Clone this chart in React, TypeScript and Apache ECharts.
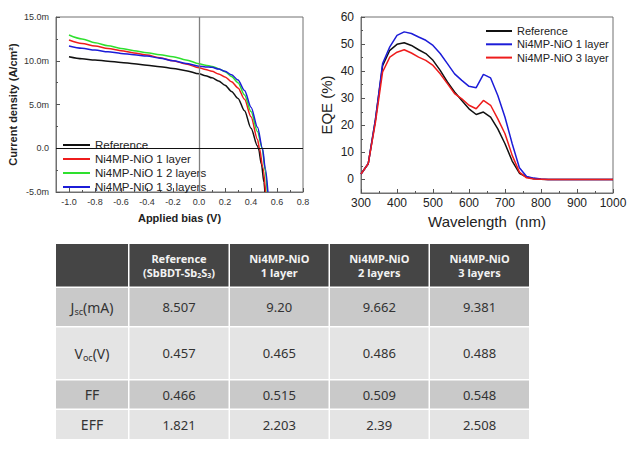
import React, { useEffect, useRef } from "react";
import * as echarts from "echarts";

// ---------- J-V curves (V, mA/cm²) ----------
const jvNames = ["Reference", "Ni4MP-NiO 1 layer", "Ni4MP-NiO 1 2 layers", "Ni4MP-NiO 1 3 layers"];
const jvReference = [
  [-1.0, 10.46], [-0.9, 10.23], [-0.8, 10.08], [-0.7, 9.95], [-0.6, 9.81], [-0.5, 9.66], [-0.4, 9.5],
  [-0.3, 9.32], [-0.2, 9.12], [-0.1, 8.87], [0, 8.51], [0.05, 8.3], [0.1, 8.05], [0.15, 7.7], [0.2, 7.2],
  [0.25, 6.5], [0.3, 5.7], [0.35, 4.3], [0.4, 2.3], [0.45, 0.25], [0.457, 0], [0.48, -1.8], [0.5, -3.9], [0.507, -5],
];
const jvOneLayer = [
  [-1.0, 12.37], [-0.9, 11.98], [-0.8, 11.68], [-0.7, 11.4], [-0.6, 11.15], [-0.5, 10.9], [-0.4, 10.65],
  [-0.3, 10.35], [-0.2, 10.0], [-0.1, 9.62], [0, 9.2], [0.05, 9.0], [0.1, 8.8], [0.15, 8.5], [0.2, 8.15],
  [0.25, 7.6], [0.3, 6.9], [0.35, 5.6], [0.4, 3.6], [0.45, 1.0], [0.465, 0], [0.49, -2.1], [0.512, -5],
];
const jvTwoLayers = [
  [-1.0, 12.94], [-0.9, 12.5], [-0.8, 12.06], [-0.7, 11.72], [-0.6, 11.41], [-0.5, 11.15], [-0.4, 10.92],
  [-0.3, 10.7], [-0.2, 10.46], [-0.1, 10.1], [0, 9.66], [0.05, 9.5], [0.1, 9.35], [0.15, 9.1], [0.2, 8.75],
  [0.25, 8.2], [0.3, 7.5], [0.35, 6.1], [0.4, 4.2], [0.45, 1.9], [0.486, 0], [0.51, -2.6], [0.525, -5],
];
const jvThreeLayers = [
  [-1.0, 11.68], [-0.9, 11.42], [-0.8, 11.22], [-0.7, 11.02], [-0.6, 10.84], [-0.5, 10.68], [-0.4, 10.53],
  [-0.3, 10.3], [-0.2, 10.0], [-0.1, 9.7], [0, 9.38], [0.05, 9.3], [0.1, 9.25], [0.15, 9.05], [0.2, 8.8],
  [0.25, 8.4], [0.3, 7.8], [0.35, 6.6], [0.4, 4.7], [0.45, 2.4], [0.488, 0], [0.51, -2.3], [0.53, -5],
];
const jvMajorTicksX = [-1.0, -0.8, -0.6, -0.4, -0.2, 0, 0.2, 0.4, 0.6, 0.8];
const jvMinorTicksX = [-0.9, -0.7, -0.5, -0.3, -0.1, 0.1, 0.3, 0.5, 0.7];
const jvMajorTicksY = [-5, 0, 5, 10, 15];
const jvMinorTicksY = [-2.5, 2.5, 7.5, 12.5];

// ---------- EQE spectra ----------
const eqeNames = ["Reference", "Ni4MP-NiO 1 layer", "Ni4MP-NiO 3 layer"];
const wavelengths = [
  300, 320, 340, 360, 380, 400, 420, 440, 460, 480, 500, 520, 540, 560, 580, 600, 620, 640,
  660, 680, 700, 720, 740, 760, 780, 800, 820, 840, 860, 880, 900, 920, 940, 960, 980, 1000,
];
const eqeReference = [
  2, 5.8, 22, 42, 47.7, 49.9, 50.5, 49.5, 47.9, 46.5, 44, 40.3, 36, 32.3, 29.2, 26.1, 24, 24.9,
  23, 18.7, 13.2, 6.8, 2.3, 0.9, 0.3, 0.1, 0, 0, 0, 0, 0, 0, 0, 0, 0, 0,
];
const eqeOneLayer = [
  2, 5.8, 22, 42.8, 49, 53.2, 54.5, 53.9, 52.6, 51.4, 49.5, 46.5, 42.8, 39, 36.6, 34.4, 33.9, 38.8,
  37.5, 31, 23, 13.2, 4.3, 1.1, 0.5, 0.2, 0, 0, 0, 0, 0, 0, 0, 0, 0, 0,
];
const eqeThreeLayer = [
  2, 5.8, 21, 39.7, 45.2, 47, 47.9, 46.7, 45.2, 44, 42.1, 39, 35.4, 31.7, 29.8, 27.4, 26.1, 29.2,
  27.4, 22.4, 16.9, 8.9, 2.7, 0.6, 0.2, 0.1, 0, 0, 0, 0, 0, 0, 0, 0, 0, 0,
];
const eqeMajorTicksX = [300, 400, 500, 600, 700, 800, 900, 1000];
const eqeMinorTicksX = [350, 450, 550, 650, 750, 850, 950];
const eqeMajorTicksY = [0, 10, 20, 30, 40, 50, 60];
const eqeMinorTicksY = [5, 15, 25, 35, 45, 55];

// ---------- table ----------
const headerLine1 = ["", "Reference", "Ni4MP-NiO", "Ni4MP-NiO", "Ni4MP-NiO"];
const headerLine2 = ["", "(SbBDT-Sb_2S_3)", "1 layer", "2 layers", "3 layers"];
const rowLabelMain = ["J", "V", "FF", "EFF"];
const rowLabelSub = ["sc", "oc", "", ""];
const rowLabelUnit = ["(mA)", "(V)", "", ""];
const jscValues = ["8.507", "9.20", "9.662", "9.381"];
const vocValues = ["0.457", "0.465", "0.486", "0.488"];
const ffValues = ["0.466", "0.515", "0.509", "0.548"];
const effValues = ["1.821", "2.203", "2.39", "2.508"];

// ---------- styles / layout ----------
const FONT = "'Liberation Sans', Arial, sans-serif";
const TFONT = "'Noto Sans', 'Open Sans', sans-serif";
const jvColors = ["#111111", "#ee1c1c", "#2ee02e", "#1c1cd8"];
const eqeColors = ["#111111", "#1c1cd8", "#ee1c1c"];
const colX = [56, 129.5, 230, 330, 430, 530.5];
const rowY = [244, 288, 327.5, 380.5, 410, 440.5];
const GAP = 1.5;

function buildTable() {
  const els: any[] = [];
  const rows = [jscValues, vocValues, ffValues, effValues];
  for (let r = 0; r < 5; r++) {
    for (let c = 0; c < 5; c++) {
      const x0 = colX[c];
      const x1 = colX[c + 1] - GAP;
      const y0 = rowY[r];
      const y1 = rowY[r + 1] - GAP;
      const fill = r === 0 ? "#454545" : r % 2 === 1 ? "#c9c9c9" : "#e4e4e4";
      els.push({
        type: "rect",
        silent: true,
        shape: { x: x0, y: y0, width: x1 - x0, height: y1 - y0 },
        style: { fill },
      });
      let text = "";
      let rich: any = {};
      if (r === 0) {
        if (c === 0) continue;
        const l2 = "{b|" + headerLine2[c].replace(/_(\w)/g, "}{s|$1}{b|") + "}";
        text = "{b|" + headerLine1[c] + "}\n" + l2;
        rich = {
          b: { fontFamily: TFONT, fontSize: 11, fontWeight: "bold", fill: "#f2f2f2", lineHeight: 14 },
          s: { fontFamily: TFONT, fontSize: 7, fontWeight: "bold", fill: "#f2f2f2", lineHeight: 8, verticalAlign: "bottom" },
        };
      } else if (c === 0) {
        const i = r - 1;
        text = "{m|" + rowLabelMain[i] + "}" + (rowLabelSub[i] ? "{s|" + rowLabelSub[i] + "}" : "") + (rowLabelUnit[i] ? "{m|" + rowLabelUnit[i] + "}" : "");
        rich = {
          m: { fontFamily: TFONT, fontSize: 14, fill: "#333333", lineHeight: 18 },
          s: { fontFamily: TFONT, fontSize: 9, fill: "#333333", lineHeight: 10, verticalAlign: "bottom" },
        };
      } else {
        text = "{v|" + rows[r - 1][c - 1] + "}";
        rich = { v: { fontFamily: TFONT, fontSize: 13, fill: "#333333", lineHeight: 16 } };
      }
      els.push({
        type: "text",
        silent: true,
        x: (x0 + x1) / 2,
        y: (y0 + y1) / 2,
        style: { text, rich, align: "center", verticalAlign: "middle" },
      });
    }
  }
  return els;
}

function minorAxis(gridIndex: number, min: number, max: number, pos: string, ticks: number[]) {
  return {
    gridIndex,
    type: "value",
    min,
    max,
    position: pos,
    axisLine: { show: false, onZero: false },
    axisTick: { inside: true, length: 2, customValues: ticks, lineStyle: { color: "#555" } },
    axisLabel: { show: false },
    splitLine: { show: false },
  };
}

export default function App() {
  const ref = useRef<HTMLDivElement>(null);
  useEffect(() => {
    document.body.style.margin = "0";
    const chart = echarts.init(ref.current!, null, { renderer: "svg" });
    const axisColor = "#707070";
    const option: any = {
      animation: false,
      textStyle: { fontFamily: FONT },
      grid: [
        { left: 56, top: 17, width: 247, height: 175, show: true, borderColor: axisColor, borderWidth: 1 },
        { left: 361, top: 17, width: 252, height: 176, show: true, borderColor: axisColor, borderWidth: 1 },
      ],
      xAxis: [
        {
          gridIndex: 0, type: "value", min: -1.1, max: 0.8, position: "bottom",
          name: "Applied bias (V)", nameLocation: "middle", nameGap: 20,
          nameTextStyle: { fontFamily: FONT, fontWeight: "bold", fontSize: 11, color: "#222" },
          axisLine: { onZero: false, lineStyle: { color: axisColor } },
          axisTick: { inside: true, length: 4, customValues: jvMajorTicksX, lineStyle: { color: "#555" } },
          axisLabel: { customValues: jvMajorTicksX, formatter: (v: number) => v.toFixed(1), fontSize: 9, color: "#333", margin: 5 },
          splitLine: { show: false },
        },
        minorAxis(0, -1.1, 0.8, "bottom", jvMinorTicksX),
        {
          gridIndex: 1, type: "value", min: 300, max: 1000, interval: 100, position: "bottom",
          name: "Wavelength  (nm)", nameLocation: "middle", nameGap: 21,
          nameTextStyle: { fontFamily: FONT, fontSize: 15, color: "#222" },
          axisLine: { onZero: false, lineStyle: { color: axisColor } },
          axisTick: { inside: true, length: 4, customValues: eqeMajorTicksX, lineStyle: { color: "#555" } },
          axisLabel: { customValues: eqeMajorTicksX, formatter: (v: number) => String(v), fontSize: 12, color: "#222", margin: 4 },
          splitLine: { show: false },
        },
        minorAxis(1, 300, 1000, "bottom", eqeMinorTicksX),
      ],
      yAxis: [
        {
          gridIndex: 0, type: "value", min: -5, max: 15, interval: 5, position: "left",
          name: "Current density (A/cm²)", nameLocation: "middle", nameGap: 38,
          nameTextStyle: { fontFamily: FONT, fontWeight: "bold", fontSize: 11, color: "#222" },
          axisLine: { onZero: false, lineStyle: { color: axisColor } },
          axisTick: { inside: true, length: 4, customValues: jvMajorTicksY, lineStyle: { color: "#555" } },
          axisLabel: {
            customValues: jvMajorTicksY,
            formatter: (v: number) => (v === 0 ? "0.0" : v.toFixed(1) + "m"),
            fontSize: 9, color: "#333", margin: 7,
          },
          splitLine: { show: false },
        },
        minorAxis(0, -5, 15, "left", jvMinorTicksY),
        {
          gridIndex: 1, type: "value", min: -5, max: 60, position: "left",
          name: "EQE (%)", nameLocation: "middle", nameGap: 27,
          nameTextStyle: { fontFamily: FONT, fontSize: 15, color: "#222" },
          axisLine: { onZero: false, lineStyle: { color: axisColor } },
          axisTick: { inside: true, length: 4, customValues: eqeMajorTicksY, lineStyle: { color: "#555" } },
          axisLabel: { customValues: eqeMajorTicksY, fontSize: 12, color: "#222", margin: 7 },
          splitLine: { show: false },
        },
        minorAxis(1, -5, 60, "left", eqeMinorTicksY),
      ],
      legend: [
        {
          left: 58, top: 134, orient: "vertical", itemWidth: 27, itemHeight: 2, itemGap: 2, icon: "rect",
          selectedMode: false,
          textStyle: { fontFamily: FONT, fontSize: 11.5, lineHeight: 12, color: "#222" },
          data: jvNames.map((n, i) => ({ name: n, itemStyle: { color: jvColors[i] } })),
        },
        {
          left: 481, top: 20, orient: "vertical", itemWidth: 26, itemHeight: 2, itemGap: 1.3, icon: "rect",
          selectedMode: false,
          textStyle: { fontFamily: FONT, fontSize: 11, lineHeight: 12, color: "#222" },
          data: eqeNames.map((n, i) => ({ name: n, itemStyle: { color: eqeColors[i] } })),
        },
      ],
      series: [
        ...[jvReference, jvOneLayer, jvTwoLayers, jvThreeLayers].map((d, i) => ({
          type: "line",
          name: jvNames[i],
          xAxisIndex: 0,
          yAxisIndex: 0,
          data: d,
          showSymbol: false,
          smooth: 0.3,
          smoothMonotone: "x",
          color: jvColors[i],
          lineStyle: { width: 1.5, color: jvColors[i] },
          ...(i === 0
            ? {
                markLine: {
                  silent: true,
                  symbol: "none",
                  label: { show: false },
                  data: [
                    { xAxis: 0, lineStyle: { color: "#808080", width: 1.3, type: "solid" } },
                    { yAxis: 0, lineStyle: { color: "#111", width: 1, type: "solid" } },
                  ],
                },
              }
            : {}),
        })),
        ...[eqeReference, eqeOneLayer, eqeThreeLayer].map((d, i) => ({
          type: "line",
          name: eqeNames[i],
          xAxisIndex: 2,
          yAxisIndex: 2,
          data: wavelengths.map((w, k) => [w, d[k]]),
          showSymbol: false,
          color: eqeColors[i],
          lineStyle: { width: 1.5, color: eqeColors[i] },
        })),
      ],
      graphic: buildTable(),
    };
    chart.setOption(option);
    return () => chart.dispose();
  }, []);
  return <div ref={ref} style={{ width: 641, height: 454 }} />;
}
